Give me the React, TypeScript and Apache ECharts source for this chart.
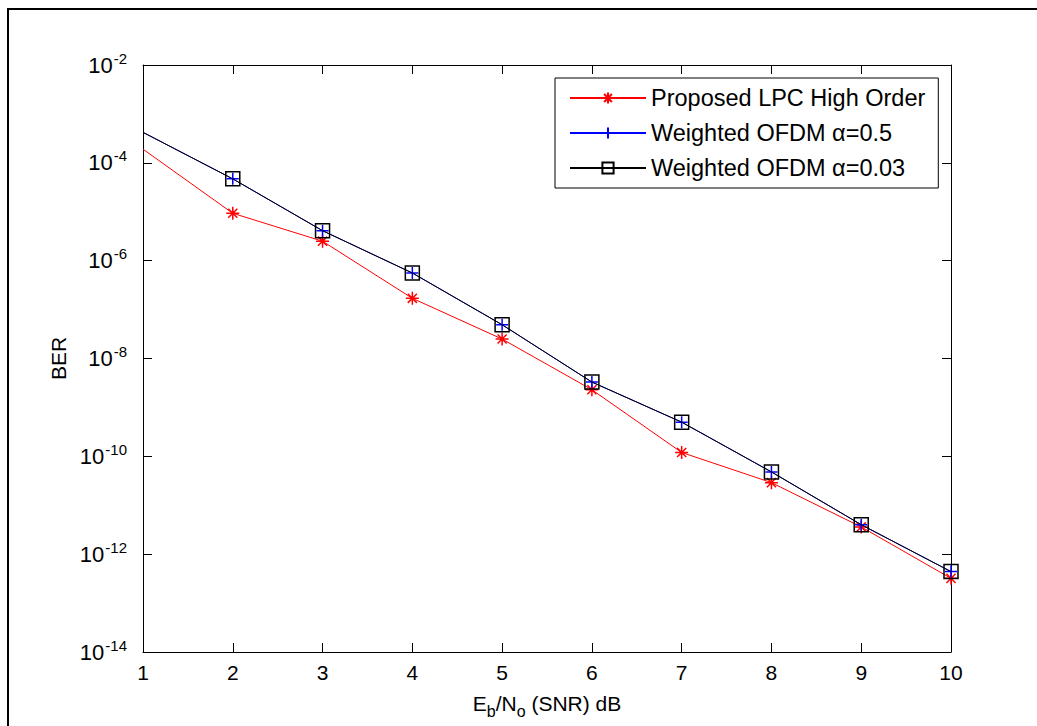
import React, { useEffect, useRef } from "react";
import * as echarts from "echarts";

const snr = [1, 2, 3, 4, 5, 6, 7, 8, 9, 10];
const berLpc = [1.9e-4, 9.3e-6, 2.5e-6, 1.7e-7, 2.5e-8, 2.3e-9, 1.2e-10, 2.9e-11, 3.6e-12, 3.2e-13];
const berW05 = [4.2e-4, 4.7e-5, 4.1e-6, 5.6e-7, 4.9e-8, 3.3e-9, 5.0e-10, 4.8e-11, 4.0e-12, 4.4e-13];
const berW003 = [4.2e-4, 4.7e-5, 4.1e-6, 5.6e-7, 4.9e-8, 3.3e-9, 5.0e-10, 4.8e-11, 4.0e-12, 4.4e-13];
const seriesNames = ["Proposed LPC High Order", "Weighted OFDM α=0.5", "Weighted OFDM α=0.03"];
const xTicks = [1, 2, 3, 4, 5, 6, 7, 8, 9, 10];

const FONT = "'Liberation Sans', Arial, Helvetica, sans-serif";

const ASTERISK = "path://M5,0L5,10M0,5L10,5M1.5,1.5L8.5,8.5M8.5,1.5L1.5,8.5";
const PLUS = "path://M5,0L5,10M0,5L10,5";
const SQUARE = "path://M0,0L10,0L10,10L0,10Z";

function toData(vals: number[]) {
  return snr.map((x, i) => (i === 0 ? { value: [x, vals[i]], symbol: "none" } : { value: [x, vals[i]] }));
}

export default function App() {
  const ref = useRef<HTMLDivElement>(null);
  useEffect(() => {
    if (!ref.current) return;
    const chart = echarts.init(ref.current, undefined, { renderer: "svg" });
    const axisLine = { show: true, lineStyle: { color: "#000", width: 1 } };
    const tick = { show: true, inside: true, length: 9, lineStyle: { color: "#000", width: 1 } };
    chart.setOption({
      animation: false,
      backgroundColor: "#fff",
      textStyle: { fontFamily: FONT },
      graphic: [
        {
          type: "rect",
          shape: { x: 8, y: 9, width: 1200, height: 900 },
          style: { fill: "none", stroke: "#000", lineWidth: 2 },
          z: 0,
        },
      ],
      grid: { left: 143, top: 65, right: 86, bottom: 74, containLabel: false },
      legend: {
        orient: "vertical",
        left: 555,
        top: 78,
        width: 386,
        itemWidth: 76,
        itemHeight: 14,
        itemGap: 11,
        padding: [8, 13, 8, 14],
        backgroundColor: "#fff",
        borderColor: "#000",
        borderWidth: 1,
        textStyle: { fontFamily: FONT, fontSize: 23.5, color: "#000" },
        data: seriesNames,
      },
      xAxis: [
        {
          type: "value",
          min: 1,
          max: 10,
          interval: 1,
          position: "bottom",
          axisLine,
          axisTick: tick,
          splitLine: { show: false },
          axisLabel: { color: "#000", fontSize: 21, fontFamily: FONT, margin: 10, formatter: (v: number) => (xTicks.includes(v) ? String(v) : "") },
          name: "E{sub|b}/N{sub|o} (SNR) dB",
          nameLocation: "middle",
          nameGap: 35,
          nameTextStyle: {
            color: "#000",
            fontSize: 21,
            fontFamily: FONT,
            rich: {
              sub: { fontSize: 16, fontFamily: FONT, color: "#000", padding: [16, 0, 0, 0] },
            },
          },
        },
        {
          type: "value",
          min: 1,
          max: 10,
          interval: 1,
          position: "top",
          axisLine,
          axisTick: tick,
          axisLabel: { show: false },
          splitLine: { show: false },
        },
      ],
      yAxis: [
        {
          type: "log",
          logBase: 10,
          min: 1e-14,
          max: 1e-2,
          interval: 2,
          position: "left",
          axisLine,
          axisTick: tick,
          minorTick: { show: false },
          splitLine: { show: false },
          axisLabel: {
            color: "#000",
            fontSize: 22,
            fontFamily: FONT,
            margin: 16,
            formatter: (v: number) => {
              const e = Math.round(Math.log10(v));
              return "10{sup|" + e + "}";
            },
            rich: {
              sup: { fontSize: 15, fontFamily: FONT, color: "#000", padding: [0, 0, 14, 1] },
            },
          },
          name: "BER",
          nameLocation: "middle",
          nameGap: 74,
          nameTextStyle: { color: "#000", fontSize: 21, fontFamily: FONT },
        },
        {
          type: "log",
          logBase: 10,
          min: 1e-14,
          max: 1e-2,
          interval: 2,
          position: "right",
          axisLine,
          axisTick: tick,
          axisLabel: { show: false },
          splitLine: { show: false },
        },
      ],
      series: [
        {
          name: seriesNames[0],
          type: "line",
          data: toData(berLpc),
          symbol: ASTERISK,
          symbolSize: 13,
          lineStyle: { color: "#ff0000", width: 1 },
          itemStyle: { color: "rgba(0,0,0,0)", borderColor: "#ff0000", borderWidth: 1.5 },
          emphasis: { disabled: true },
          z: 2,
        },
        {
          name: seriesNames[1],
          type: "line",
          data: toData(berW05),
          symbol: PLUS,
          symbolSize: 12,
          lineStyle: { color: "#0000ff", width: 1 },
          itemStyle: { color: "rgba(0,0,0,0)", borderColor: "#0000ff", borderWidth: 1.5 },
          emphasis: { disabled: true },
          z: 3,
        },
        {
          name: seriesNames[2],
          type: "line",
          data: toData(berW003),
          symbol: SQUARE,
          symbolSize: 14,
          lineStyle: { color: "#000000", width: 1 },
          itemStyle: { color: "rgba(0,0,0,0)", borderColor: "#000000", borderWidth: 1.5 },
          emphasis: { disabled: true },
          z: 4,
        },
      ],
    });
    return () => chart.dispose();
  }, []);
  return (
    <div
      ref={ref}
      style={{ position: "fixed", left: 0, top: 0, width: 1037, height: 726, background: "#fff" }}
    />
  );
}
